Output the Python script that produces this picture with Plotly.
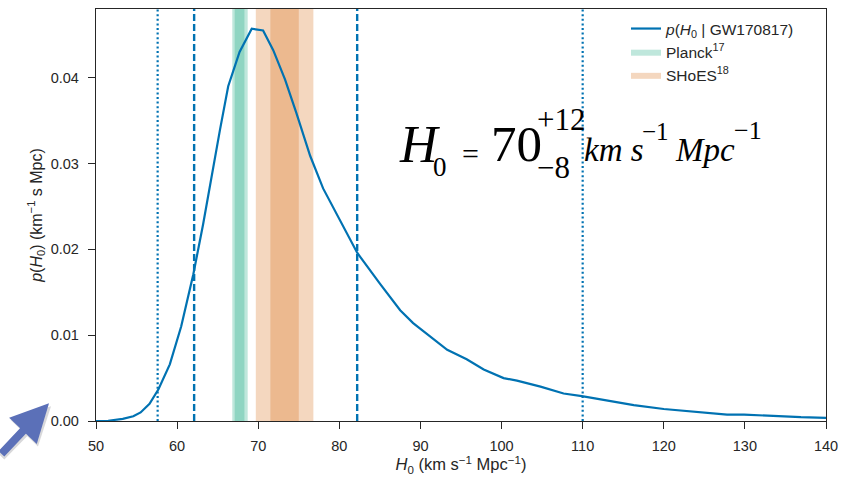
import plotly.graph_objects as go

# Posterior on the Hubble constant from GW170817
h0 = [50.0, 51.5, 53.3, 54.6, 55.5, 56.2, 56.6, 57.7, 59.1, 60.5, 62.0, 63.2,
      64.25, 65.3, 66.3, 67.7, 69.2, 70.6, 71.85, 73.3, 74.7, 76.4, 78.0,
      80.1, 82.2, 85.0, 87.5, 89.1, 93.3, 95.7, 97.8, 100.25, 101.9, 104.8,
      107.65, 109.9, 112.2, 116.3, 120.0, 123.7, 127.8, 129.9, 133.6, 136.9,
      140.0]
p_h0 = [0.0, 0.00003, 0.00025, 0.00055, 0.0010, 0.0016, 0.0020, 0.0037,
        0.0066, 0.0110, 0.0171, 0.0229, 0.0286, 0.0340, 0.0390, 0.0430,
        0.0457, 0.0455, 0.0432, 0.0398, 0.0359, 0.0309, 0.0271, 0.0233,
        0.0196, 0.0160, 0.0129, 0.0114, 0.0083, 0.0072, 0.0060, 0.0050,
        0.0047, 0.0040, 0.0032, 0.0029, 0.00255, 0.00186, 0.0014, 0.0011,
        0.00075, 0.00075, 0.00055, 0.00044, 0.00037]

# Credible interval bounds (dashed: 68.3%, dotted: 95.4%)
ci_68 = [62.1, 82.2]
ci_95 = [57.6, 110.0]

# Independent measurements: (1 sigma, 2 sigma) ranges
planck_1s = [67.1, 68.3]
planck_2s = [66.8, 68.7]
shoes_1s = [71.5, 75.0]
shoes_2s = [69.7, 76.8]

x_range = [50, 140]
y_range = [0, 0.048]
x_ticks = [50, 60, 70, 80, 90, 100, 110, 120, 130, 140]
y_ticks = [0.00, 0.01, 0.02, 0.03, 0.04]

BLUE = "#0072B2"
GREEN = "rgba(0,158,115,0.25)"
ORANGE = "rgba(213,94,0,0.25)"
INK = "#262626"
SANS = "Liberation Sans"
SERIF = "Liberation Serif"

fig = go.Figure()


def band(lo_hi, color, name, show, rank):
    lo, hi = lo_hi
    return go.Scatter(
        x=[lo, hi, hi, lo, lo],
        y=[y_range[0], y_range[0], y_range[1], y_range[1], y_range[0]],
        fill="toself", fillcolor=color, mode="lines",
        line=dict(width=0, color=color), name=name,
        showlegend=show, legendrank=rank, hoverinfo="skip")


fig.add_trace(band(planck_2s, GREEN, "Planck<sup>17</sup>", True, 2))
fig.add_trace(band(planck_1s, GREEN, "Planck 1σ", False, 2))
fig.add_trace(band(shoes_2s, ORANGE, "SHoES<sup>18</sup>", True, 3))
fig.add_trace(band(shoes_1s, ORANGE, "SHoES 1σ", False, 3))

for xv in ci_68:
    fig.add_vline(x=xv, line=dict(color=BLUE, width=2.4, dash="7px,3px"))
for xv in ci_95:
    fig.add_vline(x=xv, line=dict(color=BLUE, width=2.2, dash="2px,2.6px"))

fig.add_trace(go.Scatter(
    x=h0, y=p_h0, mode="lines", line=dict(color=BLUE, width=2.2),
    name="<i>p</i>(<i>H</i><sub>0</sub> | GW170817)", legendrank=1))

# Large equation, assembled piece by piece
W, H_, L, T, B = 846, 478, 96, 8, 53
pw, ph = W - L - 20, H_ - T - B


def px(xp):
    return (xp - L) / pw


def py(yp):
    return (T + ph - yp) / ph


eq_parts = [
    # text, left x, centre y, size, italic
    ("H", 398, 145, 52, True),
    ("0", 432, 168, 27, False),
    ("=", 461, 154, 30, False),
    ("70", 490, 145, 51, False),
    ("+12", 536, 119.5, 31, False),
    ("−8", 536, 168, 31, False),
    ("km s", 583, 151, 33, True),
    ("−1", 641, 131.5, 25, False),
    ("Mpc", 674, 151, 33, True),
    ("−1", 733, 131, 26, False),
]
for txt, xl, yc, size, ital in eq_parts:
    fig.add_annotation(
        text=f"<i>{txt}</i>" if ital else txt,
        xref="paper", yref="paper", x=px(xl), y=py(yc),
        xanchor="left", yanchor="middle", showarrow=False,
        font=dict(family=SERIF, size=size, color="black"), borderpad=0)

# Pointer arrow in the lower-left corner (soft shadow + arrow)
fig.add_annotation(
    text="", xref="paper", yref="paper", x=px(51), y=py(410),
    ax=-62, ay=52, showarrow=True, arrowhead=2, arrowsize=0.95,
    arrowwidth=8, arrowcolor="rgba(80,80,90,0.22)")
fig.add_annotation(
    text="", xref="paper", yref="paper", x=px(49), y=py(407),
    ax=-62, ay=52, showarrow=True, arrowhead=2, arrowsize=0.95,
    arrowwidth=8, arrowcolor="#5b70b8")

axis_common = dict(
    showline=True, linecolor=INK, linewidth=1.3, mirror=True,
    ticks="outside", ticklen=7, tickwidth=1.1, tickcolor=INK,
    showgrid=False, zeroline=False,
    tickfont=dict(family=SANS, size=14.5, color=INK),
)

fig.update_xaxes(
    range=x_range, tickvals=x_ticks, ticklabelstandoff=4,
    title=dict(text="<i>H</i><sub>0</sub> (km s<sup>−1</sup> Mpc<sup>−1</sup>)",
               font=dict(family=SANS, size=16.5, color=INK), standoff=5),
    **axis_common)
fig.update_yaxes(
    range=y_range, tickvals=y_ticks, tickformat=".2f", ticklabelstandoff=6,
    title=dict(text="<i>p</i>(<i>H</i><sub>0</sub>) (km<sup>−1</sup> s Mpc)",
               font=dict(family=SANS, size=16, color=INK), standoff=4),
    **axis_common)

fig.update_layout(
    width=W, height=H_, autosize=False,
    margin=dict(l=L, r=20, t=T, b=B, pad=0),
    paper_bgcolor="white", plot_bgcolor="white",
    showlegend=True,
    legend=dict(x=px(626), y=py(11), xanchor="left", yanchor="top",
                bgcolor="rgba(0,0,0,0)", borderwidth=0, tracegroupgap=0,
                font=dict(family=SANS, size=15.5, color=INK)),
)

fig.write_html("out.html")
